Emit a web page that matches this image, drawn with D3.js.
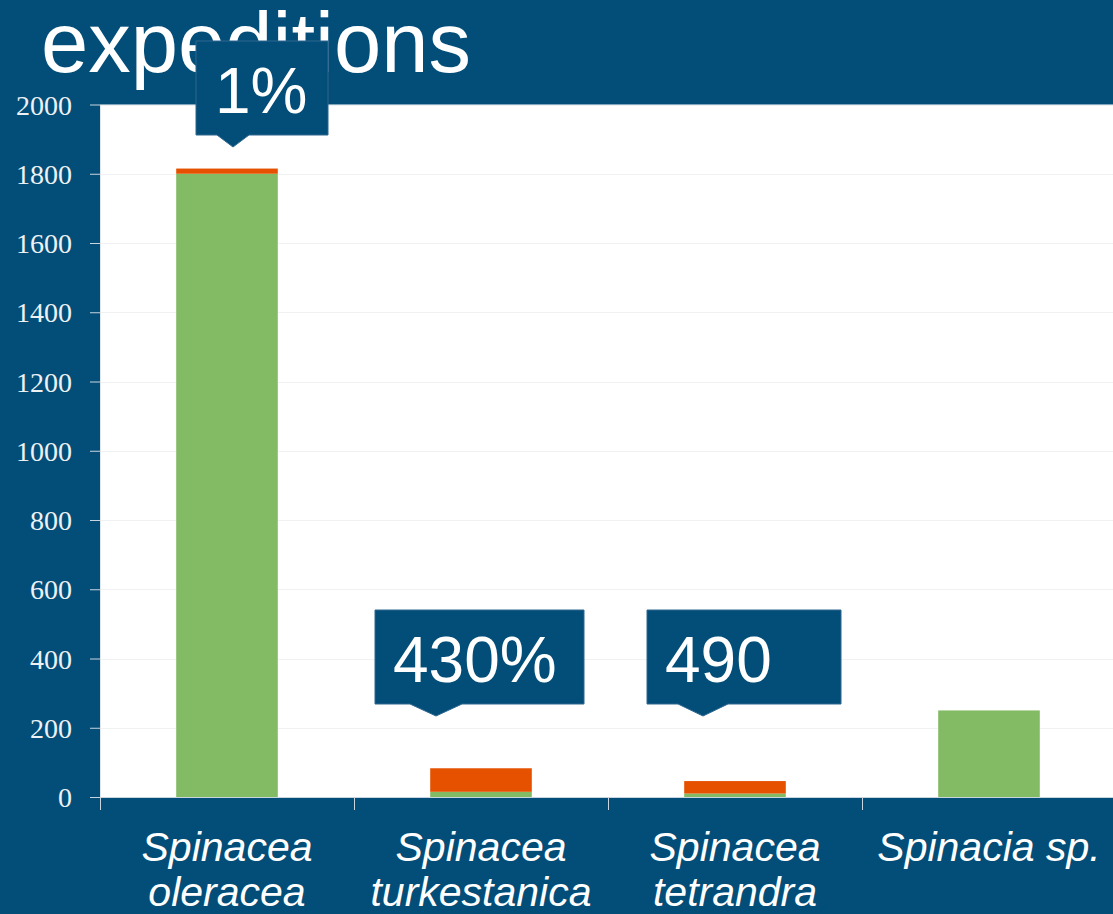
<!DOCTYPE html>
<html>
<head>
<meta charset="utf-8">
<script src="https://cdn.jsdelivr.net/npm/d3@7"></script>
<style>
  html, body { margin: 0; padding: 0; background: #024e79; }
  svg { display: block; }
</style>
</head>
<body>
<script>
// data
const categories = ["Spinacea oleracea", "Spinacea turkestanica", "Spinacea tetrandra", "Spinacia sp."];
const labelLines = [["Spinacea", "oleracea"], ["Spinacea", "turkestanica"], ["Spinacea", "tetrandra"], ["Spinacia sp."]];
const greenValues = [1800, 15, 10, 250];
const orangeValues = [15, 68, 36, 0];
const yTicks = [0, 200, 400, 600, 800, 1000, 1200, 1400, 1600, 1800, 2000];
const calloutTexts = ["1%", "430%", "490", null];

const W = 1113, H = 914;
const blue = "#024e79";
const plotLeft = 100, plotTop = 104.5, plotBottom = 797;

const svg = d3.select("body").append("svg")
  .attr("width", W).attr("height", H);

svg.append("rect").attr("width", W).attr("height", H).attr("fill", blue);

// title (first line of the slide title is cut off above)
svg.append("text")
  .attr("x", 41).attr("y", 72)
  .attr("fill", "#fff")
  .style("font-family", "Liberation Sans, Arial, sans-serif")
  .style("font-size", "85px")
  .text("expeditions");

// plot area
svg.append("rect")
  .attr("x", plotLeft).attr("y", plotTop)
  .attr("width", W - plotLeft).attr("height", plotBottom - plotTop)
  .attr("fill", "#fff");

const x = d3.scaleBand().domain(categories).range([plotLeft, 1116]).padding(0);
const y = d3.scaleLinear().domain([0, 2000]).range([plotBottom, plotTop]);
const barW = x.bandwidth() * 0.4;

// gridlines
svg.append("g").selectAll("line")
  .data(yTicks.filter(d => d > 0))
  .join("line")
  .attr("x1", plotLeft).attr("x2", W)
  .attr("y1", d => Math.round(y(d)) + 0.5).attr("y2", d => Math.round(y(d)) + 0.5)
  .attr("stroke", "#f1f1f1");

// stacked bars
const stacked = categories.map((c, i) => ({ c, g: greenValues[i], o: orangeValues[i] }));
const bars = svg.append("g");
bars.selectAll("rect.g")
  .data(stacked)
  .join("rect").attr("class", "g")
  .attr("x", d => x(d.c) + (x.bandwidth() - barW) / 2)
  .attr("width", barW)
  .attr("y", d => y(d.g))
  .attr("height", d => y(0) - y(d.g))
  .attr("fill", "#83bb64");
bars.selectAll("rect.o")
  .data(stacked.filter(d => d.o > 0))
  .join("rect").attr("class", "o")
  .attr("x", d => x(d.c) + (x.bandwidth() - barW) / 2)
  .attr("width", barW)
  .attr("y", d => y(d.g + d.o))
  .attr("height", d => y(d.g) - y(d.g + d.o))
  .attr("fill", "#e65100");

// y axis
const yAxis = svg.append("g")
  .attr("transform", `translate(${plotLeft},0)`)
  .call(d3.axisLeft(y).tickValues(yTicks).tickFormat(d3.format("d"))
    .tickSize(10).tickPadding(18).tickSizeOuter(0));
yAxis.select(".domain").attr("stroke", "#dfe6ec");
yAxis.selectAll(".tick line").attr("stroke", "#c9d5de");
yAxis.selectAll(".tick text")
  .attr("fill", "#eef2f5")
  .attr("dy", "0.34em")
  .style("font-family", "Liberation Serif, Times New Roman, serif")
  .style("font-size", "28px");

// x axis line and separators
svg.append("line")
  .attr("x1", plotLeft).attr("x2", W)
  .attr("y1", plotBottom + 0.5).attr("y2", plotBottom + 0.5)
  .attr("stroke", "#c9d5de");
svg.append("g").selectAll("line")
  .data(categories)
  .join("line")
  .attr("x1", d => Math.round(x(d)) + 0.5).attr("x2", d => Math.round(x(d)) + 0.5)
  .attr("y1", plotBottom).attr("y2", plotBottom + 13)
  .attr("stroke", "#c9d5de");

// category labels
const lab = svg.append("g").selectAll("text")
  .data(categories)
  .join("text")
  .attr("x", d => x(d) + x.bandwidth() / 2)
  .attr("y", 861)
  .attr("text-anchor", "middle")
  .attr("fill", "#fff")
  .style("font-family", "Liberation Sans, Arial, sans-serif")
  .style("font-style", "italic")
  .style("font-size", "41px");
lab.selectAll("tspan")
  .data((d, i) => labelLines[i])
  .join("tspan")
  .attr("x", function () { return d3.select(this.parentNode).attr("x"); })
  .attr("dy", (d, i) => i === 0 ? 0 : 45)
  .text(d => d);

// callouts (slide annotations placed near the bars)
const calloutBoxes = [
  { x0: 196, x1: 328, y0: 41, y1: 135, tip: 233, tipY: 147, half: 16, tx: 215 },
  { x0: 375, x1: 584, y0: 610, y1: 704, tip: 436, tipY: 716, half: 26, tx: 393 },
  { x0: 647, x1: 841, y0: 610, y1: 704, tip: 703, tipY: 716, half: 25, tx: 665 }
];
const co = svg.append("g").selectAll("g")
  .data(calloutTexts.filter(t => t !== null).map((t, i) => ({ t, b: calloutBoxes[i] })))
  .join("g");
co.append("path")
  .attr("d", d => {
    const b = d.b;
    return `M${b.x0},${b.y0}H${b.x1}V${b.y1}H${b.tip + b.half}L${b.tip},${b.tipY}L${b.tip - b.half},${b.y1}H${b.x0}Z`;
  })
  .attr("fill", blue)
  .attr("stroke", "#2f6790")
  .attr("stroke-width", 1);
co.append("text")
  .attr("x", d => d.b.tx)
  .attr("y", d => d.b.y1 - 22)
  .attr("fill", "#fff")
  .style("font-family", "Liberation Sans, Arial, sans-serif")
  .style("font-size", "64px")
  .text(d => d.t);
</script>
</body>
</html>
